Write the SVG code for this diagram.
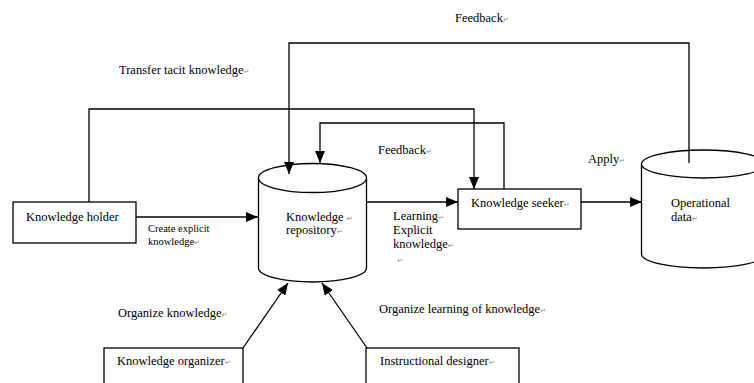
<svg xmlns="http://www.w3.org/2000/svg" width="754" height="383" viewBox="0 0 754 383">
<defs>
<marker id="ah" markerUnits="userSpaceOnUse" markerWidth="12" markerHeight="10" refX="12" refY="5" orient="auto">
<path d="M0,0 L12,5 L0,10 z" fill="#000"/>
</marker>
<style>
.ln{fill:none;stroke:#000;stroke-width:1.3}
.box{fill:#fff;stroke:#000;stroke-width:1.3}
.t{font-family:"Liberation Serif","Times New Roman",serif;font-size:12.5px;fill:#000}
.s{font-size:10.5px}
.pm{font-family:"DejaVu Sans",sans-serif;font-size:7px;fill:#888}
</style>
</defs>
<rect width="754" height="383" fill="#fff"/>
<g id="knowledge-holder">
<rect class="box" x="13" y="202" width="123" height="41"/>
<text class="t" x="26" y="221">Knowledge holder</text>
</g>
<g id="knowledge-repository">
<path class="box" d="M258.5,178 L258.5,268 A54,14 0 0 0 366.5,268 L366.5,178"/>
<ellipse class="box" cx="312.5" cy="178" rx="54" ry="14.5"/>
<text class="t" x="286" y="221">Knowledge <tspan class="pm">↵</tspan></text>
<text class="t" x="286" y="234">repository<tspan class="pm">↵</tspan></text>
</g>
<g id="knowledge-seeker">
<rect class="box" x="458" y="189" width="123" height="40"/>
<text class="t" x="471" y="207">Knowledge seeker<tspan class="pm">↵</tspan></text>
</g>
<g id="operational-data">
<path class="box" d="M641.5,164 L641.5,254 A62,14 0 0 0 765.5,254 L765.5,164"/>
<ellipse class="box" cx="703.5" cy="164" rx="62" ry="14"/>
<text class="t" x="671" y="207">Operational</text>
<text class="t" x="671" y="221">data<tspan class="pm">↵</tspan></text>
</g>
<g id="knowledge-organizer">
<rect class="box" x="104" y="348" width="139" height="50"/>
<text class="t" x="117" y="365">Knowledge organizer<tspan class="pm">↵</tspan></text>
</g>
<g id="instructional-designer">
<rect class="box" x="366" y="348" width="153" height="50"/>
<text class="t" x="380" y="365">Instructional designer<tspan class="pm">↵</tspan></text>
</g>
<g id="connectors">
<polyline class="ln" points="689,163 689,43 289,43 289,174" marker-end="url(#ah)"/>
<polyline class="ln" points="89,202 89,109 474,109 474,189" marker-end="url(#ah)"/>
<polyline class="ln" points="504,189 504,123 320,123 320,163" marker-end="url(#ah)"/>
<line class="ln" x1="136" y1="217" x2="258" y2="217" marker-end="url(#ah)"/>
<line class="ln" x1="367" y1="202" x2="458" y2="202" marker-end="url(#ah)"/>
<line class="ln" x1="581" y1="202" x2="642" y2="202" marker-end="url(#ah)"/>
<line class="ln" x1="243" y1="348" x2="288" y2="283" marker-end="url(#ah)"/>
<line class="ln" x1="367" y1="348" x2="322" y2="283" marker-end="url(#ah)"/>
</g>
<g id="labels">
<text class="t" x="455" y="22">Feedback<tspan class="pm">↵</tspan></text>
<text class="t" x="119" y="74">Transfer tacit knowledge<tspan class="pm">↵</tspan></text>
<text class="t" x="378" y="154">Feedback<tspan class="pm">↵</tspan></text>
<text class="t" x="588" y="163">Apply<tspan class="pm">↵</tspan></text>
<text class="t s" x="148" y="232">Create explicit</text>
<text class="t s" x="148" y="245">knowledge<tspan class="pm">↵</tspan></text>
<text class="t" x="393" y="220">Learning<tspan class="pm">↵</tspan></text>
<text class="t" x="393" y="234">Explicit</text>
<text class="t" x="393" y="248">knowledge<tspan class="pm">↵</tspan></text>
<text class="pm" x="397" y="263">↵</text>
<text class="t" x="118" y="317">Organize knowledge<tspan class="pm">↵</tspan></text>
<text class="t" x="379" y="313">Organize learning of knowledge<tspan class="pm">↵</tspan></text>
</g>
</svg>
